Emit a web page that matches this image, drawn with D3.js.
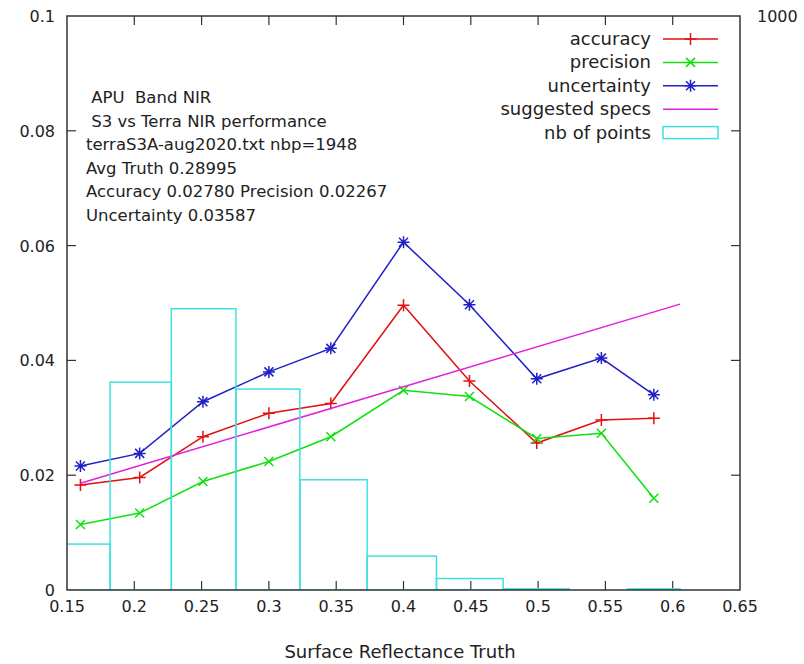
<!DOCTYPE html>
<html>
<head>
<meta charset="utf-8">
<script src="https://cdn.jsdelivr.net/npm/d3@7"></script>
<style>
  body { margin: 0; background: #fff; }
  svg text { font-family: "DejaVu Sans", sans-serif; fill: #222; }
</style>
</head>
<body>
<div id="chart"></div>
<script>
// bin centres (surface reflectance truth)
var truth = [0.160, 0.204, 0.251, 0.300, 0.346, 0.400, 0.449, 0.499, 0.547, 0.586];
var accuracy = [0.0183, 0.0196, 0.0267, 0.0308, 0.0325, 0.0496, 0.0364, 0.0256, 0.0296, 0.0299];
var precision = [0.0114, 0.0134, 0.0189, 0.0224, 0.0267, 0.0348, 0.0337, 0.0264, 0.0273, 0.0160];
var uncertainty = [0.0216, 0.0238, 0.0328, 0.0380, 0.0421, 0.0606, 0.0497, 0.0368, 0.0404, 0.0340];
var nbPoints = [80, 362, 490, 350, 192, 59, 20, 2, 0, 2];
var specX = [0.160, 0.6055];
var specY = [0.0186, 0.0498];
var xTicks = [0.15, 0.2, 0.25, 0.3, 0.35, 0.4, 0.45, 0.5, 0.55, 0.6, 0.65];
var yTicks = [0, 0.02, 0.04, 0.06, 0.08, 0.1];
var infoLines = [" APU  Band NIR", " S3 vs Terra NIR performance", "terraS3A-aug2020.txt nbp=1948",
  "Avg Truth 0.28995", "Accuracy 0.02780 Precision 0.02267", "Uncertainty 0.03587"];

const W = 804, H = 664;
const plot = {l: 67, r: 740, t: 16, b: 590};
const col = {acc: "#e21010", prec: "#10e010", unc: "#2020c8", spec: "#e020e0", hist: "#40e0e0", axis: "#333"};

var svg = d3.select("#chart").append("svg").attr("width", W).attr("height", H);

var x = d3.scaleLinear().domain([0.15, 0.65]).range([plot.l, plot.r]);
var y = d3.scaleLinear().domain([0, 0.1]).range([plot.b, plot.t]);
var y2 = d3.scaleLinear().domain([0, 1000]).range([plot.b, plot.t]);

svg.append("clipPath").attr("id", "clip").append("rect")
  .attr("x", plot.l).attr("y", plot.t).attr("width", plot.r - plot.l).attr("height", plot.b - plot.t);

// tick marks (inward, mirrored)
var tk = svg.append("g").attr("stroke", col.axis).attr("stroke-width", 1.2);
xTicks.slice(1, -1).forEach(function(v){
  tk.append("line").attr("x1", x(v)).attr("x2", x(v)).attr("y1", plot.b).attr("y2", plot.b - 9);
  tk.append("line").attr("x1", x(v)).attr("x2", x(v)).attr("y1", plot.t).attr("y2", plot.t + 9);
});
yTicks.slice(1, -1).forEach(function(v){
  tk.append("line").attr("x1", plot.l).attr("x2", plot.l + 9).attr("y1", y(v)).attr("y2", y(v));
  tk.append("line").attr("x1", plot.r).attr("x2", plot.r - 9).attr("y1", y(v)).attr("y2", y(v));
});

svg.selectAll(".xl").data(xTicks).enter().append("text")
  .attr("x", function(d){ return x(d); }).attr("y", plot.b + 22)
  .attr("text-anchor", "middle").attr("font-size", 16).text(function(d){ return d; });
svg.selectAll(".yl").data(yTicks).enter().append("text")
  .attr("x", plot.l - 12).attr("y", function(d){ return y(d) + 6; })
  .attr("text-anchor", "end").attr("font-size", 16).text(function(d){ return d; });
svg.append("text").attr("x", plot.r + 17).attr("y", y2(1000) + 6)
  .attr("font-size", 16).text(1000);
svg.append("text").attr("x", 400).attr("y", 658)
  .attr("text-anchor", "middle").attr("font-size", 18).text("Surface Reflectance Truth");

// info block
svg.selectAll(".info").data(infoLines).enter().append("text")
  .attr("x", 86).attr("y", function(d, i){ return 103 + i * 23.6; })
  .attr("font-size", 16.5).attr("xml:space", "preserve").style("white-space", "pre")
  .text(function(d){ return d; });

var g = svg.append("g").attr("clip-path", "url(#clip)");

function marker(sel, type, c){
  var s = 6;
  var p = "";
  if (type === "+" || type === "*") p += "M" + (-s) + ",0H" + s + "M0," + (-s) + "V" + s;
  if (type === "x" || type === "*") p += "M" + (-s*0.75) + "," + (-s*0.75) + "L" + (s*0.75) + "," + (s*0.75) +
    "M" + (-s*0.75) + "," + (s*0.75) + "L" + (s*0.75) + "," + (-s*0.75);
  sel.append("path").attr("d", p).attr("stroke", c).attr("stroke-width", 1.5).attr("fill", "none");
}

var series = [
  {vals: accuracy, c: col.acc, m: "+"},
  {vals: precision, c: col.prec, m: "x"},
  {vals: uncertainty, c: col.unc, m: "*"}
];
var line = d3.line().x(function(d){ return x(d[0]); }).y(function(d){ return y(d[1]); });
series.forEach(function(s){
  var pts = truth.map(function(t, i){ return [t, s.vals[i]]; });
  g.append("path").attr("d", line(pts)).attr("fill", "none").attr("stroke", s.c).attr("stroke-width", 1.5);
  g.selectAll(null).data(pts).enter().append("g")
    .attr("transform", function(d){ return "translate(" + x(d[0]) + "," + y(d[1]) + ")"; })
    .each(function(){ marker(d3.select(this), s.m, s.c); });
});

g.append("path").attr("d", line(specX.map(function(v, i){ return [v, specY[i]]; })))
  .attr("fill", "none").attr("stroke", col.spec).attr("stroke-width", 1.5);

// histogram boxes: edges at midpoints between bin centres
var bins = truth.map(function(t, i){
  var lo = i === 0 ? t - (truth[1] - t) / 2 : (truth[i - 1] + t) / 2;
  var hi = i === truth.length - 1 ? t + (t - truth[i - 1]) / 2 : (t + truth[i + 1]) / 2;
  return {lo: lo, hi: hi, n: nbPoints[i]};
}).filter(function(b){ return b.n > 0; });
g.selectAll(".bar").data(bins).enter().append("rect")
  .attr("x", function(d){ return x(d.lo); })
  .attr("y", function(d){ return y2(d.n); })
  .attr("width", function(d){ return x(d.hi) - x(d.lo); })
  .attr("height", function(d){ return plot.b - y2(d.n); })
  .attr("fill", "none").attr("stroke", col.hist).attr("stroke-width", 1.5);

// frame
svg.append("rect").attr("x", plot.l).attr("y", plot.t).attr("width", plot.r - plot.l).attr("height", plot.b - plot.t)
  .attr("fill", "none").attr("stroke", col.axis).attr("stroke-width", 1.5);

// legend
var legend = [
  {name: "accuracy", c: col.acc, m: "+"},
  {name: "precision", c: col.prec, m: "x"},
  {name: "uncertainty", c: col.unc, m: "*"},
  {name: "suggested specs", c: col.spec, m: null},
  {name: "nb of points", c: col.hist, m: "box"}
];
var lg = svg.append("g");
legend.forEach(function(d, i){
  var cy = 39 + i * 23.4;
  lg.append("text").attr("x", 651).attr("y", cy + 6).attr("text-anchor", "end").attr("font-size", 18).text(d.name);
  if (d.m === "box") {
    lg.append("rect").attr("x", 663).attr("y", cy - 6).attr("width", 55).attr("height", 12)
      .attr("fill", "none").attr("stroke", d.c).attr("stroke-width", 1.5);
  } else {
    lg.append("line").attr("x1", 663).attr("x2", 718).attr("y1", cy).attr("y2", cy)
      .attr("stroke", d.c).attr("stroke-width", 1.5);
    if (d.m) {
      var mg = lg.append("g").attr("transform", "translate(690.5," + cy + ")");
      marker(mg, d.m, d.c);
    }
  }
});
</script>
</body>
</html>
